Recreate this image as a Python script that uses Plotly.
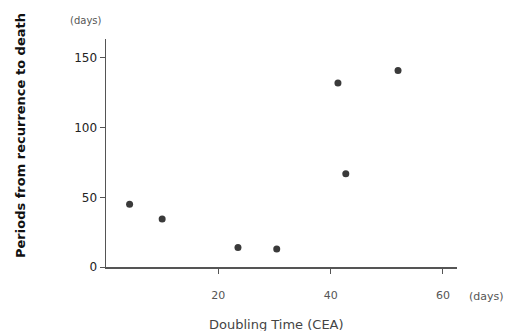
import plotly.graph_objects as go

doubling_time = [4.2, 10.0, 23.5, 30.4, 41.3, 42.7, 52.0]
periods = [45, 34.5, 14, 13, 132, 67, 141]
x_ticks = [20, 40, 60]
y_ticks = [0, 50, 100, 150]

fig = go.Figure()
fig.add_trace(go.Scatter(
    x=doubling_time, y=periods, mode="markers",
    marker=dict(size=7, color="#3a3a3a"),
    showlegend=False, cliponaxis=False, hoverinfo="skip",
))

font = "DejaVu Sans, Arial, sans-serif"
L, R, T, B = 106, 56, 39, 64
fig.update_layout(
    width=513, height=331,
    margin=dict(l=L, r=R, t=T, b=B, autoexpand=False),
    paper_bgcolor="white", plot_bgcolor="white",
    font=dict(family=font, color="#333"),
    xaxis=dict(
        range=[0, 62.5], tickvals=x_ticks, ticktext=[str(v) for v in x_ticks],
        showgrid=False, zeroline=False, showline=True, linecolor="#555", linewidth=1.5,
        ticks="outside", ticklen=5, tickcolor="#555", tickfont=dict(size=11, color="#555"),
        ticklabelstandoff=12, fixedrange=True,
    ),
    yaxis=dict(
        range=[0, 163.6], tickvals=y_ticks, ticktext=[str(v) for v in y_ticks],
        showgrid=False, zeroline=False, showline=True, linecolor="#555", linewidth=1.5,
        ticks="outside", ticklen=5, tickcolor="#555", tickfont=dict(size=12, color="#222"),
        fixedrange=True,
    ),
)

W, H = 513 - L - R, 331 - T - B
def px(x, y):
    return (x - L) / W, (331 - B - y) / H

anns = []
for text, x, y, size, color, angle in [
    ("(days)", 86, 20, 10, "#555", 0),
    ("(days)", 487, 296, 11, "#555", 0),
    ("Doubling Time (CEA)", 276, 324, 13, "#444", 0),
    ("<b>Periods from recurrence to death</b>", 20, 136, 13, "#111", -90),
]:
    xp, yp = px(x, y)
    anns.append(dict(text=text, x=xp, y=yp, xref="paper", yref="paper", showarrow=False,
                     xanchor="center", yanchor="middle", textangle=angle,
                     font=dict(size=size, color=color, family=font)))
fig.update_layout(annotations=anns)

fig.write_html("out.html", config={"displayModeBar": False, "staticPlot": True},
               post_script="document.body.style.margin='0';document.body.style.overflow='hidden';")
